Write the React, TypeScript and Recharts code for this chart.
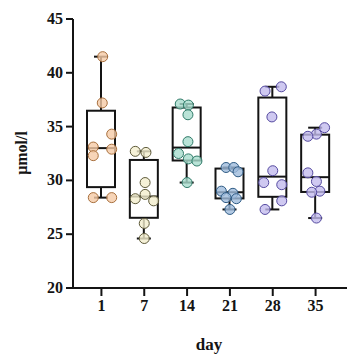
import React from 'react';
import { ComposedChart, Bar, Scatter, XAxis, YAxis } from 'recharts';

const days = ['1', '7', '14', '21', '28', '35'];

const day1 = [41.5, 37.2, 34.3, 33.1, 32.9, 32.3, 28.4, 28.4];
const day7 = [32.7, 32.6, 29.8, 28.7, 28.3, 28.1, 26.0, 24.6];
const day14 = [37.1, 37.0, 36.1, 33.6, 32.5, 32.0, 31.8, 29.8];
const day21 = [31.2, 31.2, 30.8, 29.0, 28.8, 28.4, 28.3, 27.3];
const day28 = [38.7, 38.3, 35.9, 30.9, 29.8, 29.6, 28.1, 27.3];
const day35 = [34.9, 34.3, 34.1, 30.7, 29.9, 29.0, 28.9, 26.5];

// horizontal jitter of each point, in category widths
const jitter1 = [0.03, 0.02, 0.24, -0.19, 0.24, -0.19, -0.19, 0.24];
const jitter7 = [-0.21, 0.04, 0.02, 0.02, -0.21, 0.22, 0.0, 0.0];
const jitter14 = [-0.16, 0.03, 0.02, 0.02, -0.2, 0.03, 0.23, 0.0];
const jitter21 = [-0.09, 0.09, 0.19, -0.2, 0.07, -0.09, 0.15, 0.0];
const jitter28 = [0.2, -0.18, -0.02, 0.0, -0.21, 0.21, 0.21, -0.18];
const jitter35 = [0.21, 0.02, -0.18, -0.18, 0.02, 0.1, -0.09, 0.02];

const yTicks = [20, 25, 30, 35, 40, 45];

const groups = [day1, day7, day14, day21, day28, day35];
const jitters = [jitter1, jitter7, jitter14, jitter21, jitter28, jitter35];

const fills = ['#f5cba6', '#f2eecd', '#a8dccd', '#9fbcdc', '#c3bcee', '#c3bcee'];
const strokes = ['#a8703e', '#5e5a3a', '#2f7a68', '#2d5a84', '#554aa0', '#554aa0'];

function quantile(sorted: number[], p: number) {
  const n = sorted.length;
  const pos = p * (n + 1);
  if (pos <= 1) return sorted[0];
  if (pos >= n) return sorted[n - 1];
  const lo = Math.floor(pos);
  const frac = pos - lo;
  return sorted[lo - 1] + frac * (sorted[lo] - sorted[lo - 1]);
}

const boxData = days.map((d, i) => {
  const s = [...groups[i]].sort((a, b) => a - b);
  const min = s[0];
  const max = s[s.length - 1];
  return {
    day: d,
    range: [min, max],
    min,
    max,
    q1: quantile(s, 0.25),
    median: quantile(s, 0.5),
    q3: quantile(s, 0.75),
  };
});

const pointSets = groups.map((g, i) => g.map((v, j) => ({ x: i + jitters[i][j], y: v })));

const FONT = 'Liberation Serif';
const INK = '#141414';

const BoxShape = (props: any) => {
  const { x, y, width, height, payload } = props;
  const top = Math.min(y, y + height);
  const bot = Math.max(y, y + height);
  const { min, max, q1, median, q3 } = payload;
  const pix = (v: number) => bot - ((bot - top) * (v - min)) / (max - min);
  const cx = x + width / 2;
  const cap = width * 0.25;
  return (
    <g stroke={INK} strokeWidth={2} fill="none">
      <line x1={cx} x2={cx} y1={pix(max)} y2={pix(q3)} />
      <line x1={cx} x2={cx} y1={pix(q1)} y2={pix(min)} />
      <line x1={cx - cap} x2={cx + cap} y1={pix(max)} y2={pix(max)} />
      <line x1={cx - cap} x2={cx + cap} y1={pix(min)} y2={pix(min)} />
      <rect x={x} y={pix(q3)} width={width} height={pix(q1) - pix(q3)} />
      <line x1={x} x2={x + width} y1={pix(median)} y2={pix(median)} />
    </g>
  );
};

const makeDot = (i: number) => (props: any) => (
  <circle
    cx={props.cx}
    cy={props.cy}
    r={5}
    fill={fills[i]}
    fillOpacity={0.8}
    stroke={strokes[i]}
    strokeWidth={1}
  />
);

const XTick = (props: any) => {
  const { x, y, payload } = props;
  return (
    <text
      x={x}
      y={y + 12}
      textAnchor="middle"
      style={{ fontFamily: FONT, fontWeight: 'bold', fontSize: 16 }}
      fill={INK}
    >
      {payload.value}
    </text>
  );
};

const YTick = (props: any) => {
  const { x, y, payload } = props;
  return (
    <text
      x={x}
      y={y + 5}
      textAnchor="end"
      style={{ fontFamily: FONT, fontWeight: 'bold', fontSize: 16 }}
      fill={INK}
    >
      {payload.value}
    </text>
  );
};

export default function App() {
  return (
    <div style={{ position: 'absolute', left: 0, top: 0, width: 347, height: 363, background: '#fff' }}>
      <ComposedChart
        width={347}
        height={363}
        data={boxData}
        margin={{ top: 19, right: 0, bottom: 0, left: 0 }}
      >
        <XAxis
          xAxisId="cat"
          dataKey="day"
          type="category"
          padding={{ left: 7, right: 10 }}
          height={75}
          tick={<XTick />}
          tickSize={8}
          tickMargin={3}
          axisLine={{ stroke: INK, strokeWidth: 2 }}
          tickLine={{ stroke: INK, strokeWidth: 2 }}
          label={{
            content: (p: any) => {
              const vb = p.viewBox;
              return (
                <text
                  x={vb.x + vb.width / 2 - 1}
                  y={350}
                  textAnchor="middle"
                  style={{ fontFamily: FONT, fontWeight: 'bold', fontSize: 17 }}
                  fill={INK}
                >
                  day
                </text>
              );
            },
          }}
        />
        <XAxis
          xAxisId="pts"
          type="number"
          dataKey="x"
          domain={[-0.5, 5.5]}
          padding={{ left: 7, right: 10 }}
          hide
        />
        <YAxis
          type="number"
          domain={[20, 45]}
          ticks={yTicks}
          width={73}
          tick={<YTick />}
          tickSize={7}
          tickMargin={3}
          axisLine={{ stroke: INK, strokeWidth: 2 }}
          tickLine={{ stroke: INK, strokeWidth: 2 }}
          label={{
            content: () => {
              const cy = 153;
              const cx = 21;
              return (
                <text
                  x={cx}
                  y={cy}
                  transform={`rotate(-90 ${cx} ${cy})`}
                  textAnchor="middle"
                  dominantBaseline="central"
                  style={{ fontFamily: FONT, fontWeight: 'bold', fontSize: 16 }}
                  fill={INK}
                >
                  μmol/l
                </text>
              );
            },
          }}
        />
        <Bar
          xAxisId="cat"
          dataKey="range"
          barSize={28}
          shape={BoxShape}
          isAnimationActive={false}
        />
        {pointSets.map((pts, i) => (
          <Scatter
            key={i}
            xAxisId="pts"
            data={pts}
            dataKey="y"
            shape={makeDot(i)}
            isAnimationActive={false}
          />
        ))}
      </ComposedChart>
    </div>
  );
}
